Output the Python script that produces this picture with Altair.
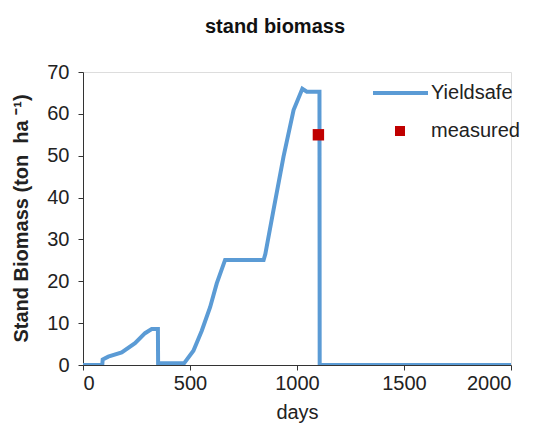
import altair as alt
import pandas as pd

days = [0, 90, 92, 118, 181, 243, 290, 321, 350, 351, 472, 516, 555, 594, 625, 664,
        844, 852, 890, 937, 984, 1025, 1046, 1105, 1106, 2000]
biomass = [0, 0, 1.3, 2.0, 3.0, 5.2, 7.6, 8.6, 8.6, 0.4, 0.4, 3.4, 8.2, 13.8, 19.5, 25.1,
           25.1, 26.5, 37.0, 49.8, 60.9, 66.0, 65.3, 65.3, 0, 0]
meas_days = [1100]
meas_vals = [55]

FONT = "Liberation Sans"
line_color = "#5B9BD5"
meas_color = "#C00000"

df = pd.DataFrame({"days": days, "biomass": biomass})
dm = pd.DataFrame({"days": meas_days, "biomass": meas_vals})

xscale = alt.Scale(domain=[0, 2000], nice=False)
yscale = alt.Scale(domain=[0, 70], nice=False)

xaxis = alt.Axis(title="days", values=[0, 500, 1000, 1500, 2000], format="d", grid=False,
                 labelFontSize=20, titleFontSize=20, titleFontWeight="normal",
                 labelFont=FONT, titleFont=FONT, labelColor="#222", titleColor="#222",
                 domainColor="#333", tickColor="#333", tickSize=5, labelPadding=3,
                 titleY=47, titleBaseline="middle")
yaxis = alt.Axis(title="Stand Biomass (ton\u00a0\u00a0ha\u00a0\u207b\u00b9)", values=list(range(0, 71, 10)),
                 grid=False, labelFontSize=20, titleFontSize=20, titleFontWeight="bold",
                 labelFont=FONT, titleFont=FONT, labelColor="#222", titleColor="#222",
                 domainColor="#333", tickColor="#333", tickSize=5, labelPadding=9,
                 titleX=-62, titleY=146, titleBaseline="middle")

line = alt.Chart(df).mark_line(color=line_color, strokeWidth=4, clip=True).encode(
    x=alt.X("days:Q", scale=xscale, axis=xaxis),
    y=alt.Y("biomass:Q", scale=yscale, axis=yaxis),
    order="days:Q",
)

meas = alt.Chart(dm).mark_square(color=meas_color, size=130, opacity=1).encode(
    x=alt.X("days:Q", scale=xscale),
    y=alt.Y("biomass:Q", scale=yscale),
)

leg_line = alt.Chart(pd.DataFrame({"a": [0]})).mark_rule(color=line_color, strokeWidth=4).encode(
    x=alt.value(290), x2=alt.value(345), y=alt.value(21))
leg_sq = alt.Chart(pd.DataFrame({"a": [0]})).mark_square(color=meas_color, size=100, opacity=1).encode(
    x=alt.value(317), y=alt.value(59))
leg_txt = alt.Chart(pd.DataFrame({"t": ["Yieldsafe", "measured"], "yy": [21, 59]})).mark_text(
    align="left", baseline="middle", fontSize=20, font=FONT, color="#222").encode(
    x=alt.value(348), y=alt.Y("yy:Q", scale=None), text="t:N")

title = alt.Chart(pd.DataFrame({"t": ["stand biomass"]})).mark_text(
    align="center", baseline="middle", fontSize=20, fontWeight="bold", font=FONT, color="#111").encode(
    x=alt.value(192), y=alt.value(-45), text="t:N")

chart = alt.layer(line, meas, leg_line, leg_sq, leg_txt, title).properties(
    width=428, height=293,
    autosize=alt.AutoSizeParams(type="none"),
    padding={"left": 75, "top": 64, "right": 10, "bottom": 59},
).configure_view(stroke=None).configure(background="white")

chart.save("out.html", embed_options={"renderer": "svg", "actions": False})
